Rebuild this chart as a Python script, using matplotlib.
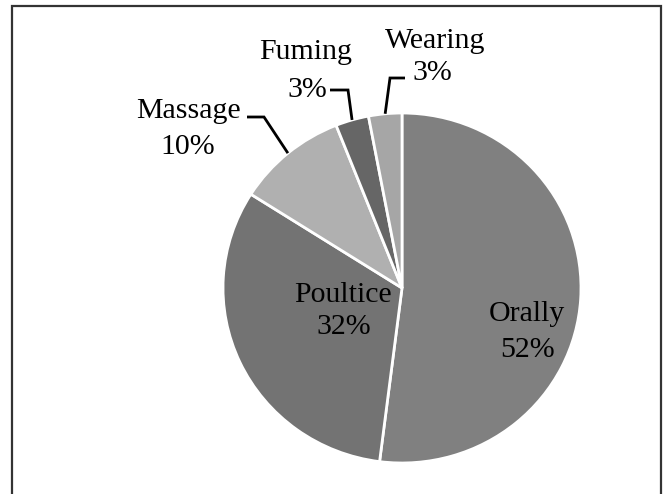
import numpy as np
import matplotlib.pyplot as plt
from matplotlib.patches import Rectangle

labels = ["Orally", "Poultice", "Massage", "Fuming", "Wearing"]
shares = [52, 32, 10, 3, 3]
colors = ["#808080", "#737373", "#b0b0b0", "#666666", "#a6a6a6"]

W, H = 667, 494
CX, CY, RX, RY = 402, 288, 179, 175


def px(x, y):
    # pixel position -> data coords (pie centred at 0,0 with radius 1)
    return (x - CX) / RX, (CY - y) / RY


plt.rcParams['font.family'] = ['Liberation Serif', 'DejaVu Serif']

fig = plt.figure(figsize=(W / 100, H / 100), dpi=100)
ax = fig.add_axes([0, 0, 1, 1])

wedges, _ = ax.pie(shares, colors=colors, startangle=90, counterclock=False,
                   radius=1, center=(0, 0), frame=False,
                   wedgeprops=dict(edgecolor='white', linewidth=2))
ax.set_aspect('auto')
ax.set_xlim(px(0, 0)[0], px(W, 0)[0])
ax.set_ylim(px(0, H)[1], px(0, 0)[1])
ax.axis('off')

fs = 21.5
# (centre x, baseline y) of each text line, in pixels
lines = [
    ("Orally", 527, 321), ("52%", 528, 357),
    ("Poultice", 343, 302), ("32%", 344, 334),
    ("Massage", 188, 118), ("10%", 188, 154),
    ("Fuming", 306, 59), ("3%", 307, 97),
    ("Wearing", 435, 48), ("3%", 432, 80),
]
for s, x, y in lines:
    ax.text(*px(x, y), s, ha='center', va='baseline', fontsize=fs,
            color='black')

# elbow leaders for the small slices: line start, elbow
leaders = {2: [(247, 117), (264, 117)],
           3: [(330, 90), (348, 90)],
           4: [(405, 78), (390, 78)]}
for i, pts in leaders.items():
    w = wedges[i]
    mid = np.deg2rad((w.theta1 + w.theta2) / 2)
    xs = [px(*p)[0] for p in pts] + [1.0 * np.cos(mid)]
    ys = [px(*p)[1] for p in pts] + [1.0 * np.sin(mid)]
    ax.plot(xs, ys, color='black', lw=2, solid_joinstyle='miter',
            solid_capstyle='butt')

fig.patches.append(Rectangle((12 / W, -0.02), (661 - 12) / W, (H - 6) / H + 0.02,
                             transform=fig.transFigure, fill=False,
                             edgecolor='#333333', linewidth=1.6))

fig.savefig("out.png", dpi=100)
